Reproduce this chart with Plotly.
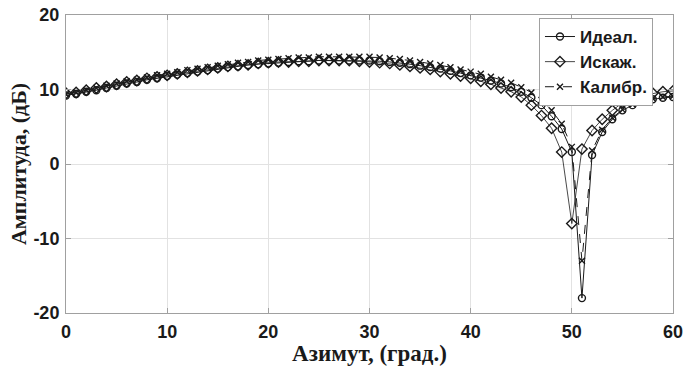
import plotly.graph_objects as go

azimuth = list(range(0, 61))

ideal = [9.2, 9.4, 9.7, 9.9, 10.2, 10.5, 10.8, 11.0, 11.3, 11.5,
         11.8, 12.0, 12.2, 12.4, 12.6, 12.8, 13.0, 13.1, 13.3, 13.4,
         13.5, 13.6, 13.7, 13.8, 13.8, 13.9, 13.9, 13.9, 13.9, 13.9,
         13.9, 13.8, 13.7, 13.6, 13.4, 13.2, 13.0, 12.8, 12.5, 12.2,
         11.9, 11.6, 11.2, 10.8, 10.3, 9.7, 8.9, 7.9, 6.4, 4.7,
         1.6, -18.0, 1.2, 4.3, 6.0, 7.2, 7.9, 8.4, 8.7, 8.9, 9.0]

distorted = [9.5, 9.6, 9.9, 10.2, 10.4, 10.7, 11.0, 11.2, 11.5, 11.7,
             11.9, 12.1, 12.3, 12.5, 12.7, 12.9, 13.1, 13.2, 13.3, 13.5,
             13.6, 13.7, 13.7, 13.8, 13.8, 13.9, 13.9, 13.9, 13.9, 13.8,
             13.7, 13.6, 13.5, 13.3, 13.1, 12.9, 12.7, 12.4, 12.1, 11.8,
             11.5, 11.1, 10.7, 10.2, 9.7, 9.0, 7.9, 6.5, 4.8, 1.6,
             -8.0, 2.0, 4.5, 6.0, 7.2, 8.2, 8.8, 9.2, 9.5, 9.7, 9.8]

calibrated = [9.4, 9.6, 9.9, 10.2, 10.5, 10.8, 11.1, 11.3, 11.6, 11.9,
              12.1, 12.3, 12.6, 12.8, 13.0, 13.2, 13.4, 13.6, 13.7, 13.9,
              14.0, 14.1, 14.2, 14.3, 14.3, 14.4, 14.4, 14.4, 14.4, 14.4,
              14.4, 14.3, 14.2, 14.1, 13.9, 13.7, 13.5, 13.3, 13.0, 12.7,
              12.4, 12.1, 11.7, 11.3, 10.9, 10.3, 9.6, 8.6, 7.2, 5.4,
              2.3, -13.0, 1.8, 4.6, 6.2, 7.3, 8.0, 8.5, 8.8, 9.0, 9.1]

series_names = ["Идеал.", "Искаж.", "Калибр."]
x_tickvals = [0, 10, 20, 30, 40, 50, 60]
x_ticktext = ["0", "10", "20", "30", "40", "50", "60"]
y_tickvals = [20, 10, 0, -10, -20]
y_ticktext = ["20", "10", "0", "-10", "-20"]

ink = "#1a1a1a"

fig = go.Figure()
fig.add_trace(go.Scatter(
    x=azimuth, y=ideal, name=series_names[0], mode="lines+markers",
    line=dict(color=ink, width=1),
    marker=dict(symbol="circle-open", size=7, color=ink, line=dict(width=1.4)),
))
fig.add_trace(go.Scatter(
    x=azimuth, y=distorted, name=series_names[1], mode="lines+markers",
    line=dict(color=ink, width=0.8),
    marker=dict(symbol="diamond-open", size=8, color=ink, line=dict(width=1.4)),
))
fig.add_trace(go.Scatter(
    x=azimuth, y=calibrated, name=series_names[2], mode="lines+markers",
    line=dict(color=ink, width=1, dash="dash"),
    marker=dict(symbol="x-thin-open", size=6, color=ink, line=dict(width=1.4, color=ink)),
))

axis_common = dict(
    showgrid=True, gridcolor="#e2e2e2", gridwidth=1,
    showline=True, linecolor="#a0a0a0", linewidth=1, mirror="ticks",
    ticks="inside", ticklen=5, tickcolor="#a0a0a0",
    zeroline=False, automargin=False,
    tickfont=dict(family="Liberation Sans, Arial, sans-serif", size=18, color=ink, weight="bold"),
)

fig.update_xaxes(
    range=[0, 60], tickvals=x_tickvals, ticktext=x_ticktext,
    ticklabelstandoff=2,
    title=dict(text="<b>Азимут, (град.)</b>", standoff=0,
               font=dict(family="Liberation Serif, Times New Roman, serif", size=23, color=ink)),
    **axis_common,
)
fig.update_yaxes(
    range=[-20, 20], tickvals=y_tickvals, ticktext=y_ticktext,
    ticklabelstandoff=2,
    title=dict(text="<b>Амплитуда, (дБ)</b>", standoff=0,
               font=dict(family="Liberation Serif, Times New Roman, serif", size=22, color=ink)),
    **axis_common,
)

fig.update_layout(
    width=685, height=366,
    margin=dict(l=66, r=12, t=15, b=53),
    paper_bgcolor="white", plot_bgcolor="white",
    showlegend=True,
    legend=dict(
        x=0.967, y=0.99, xanchor="right", yanchor="top",
        bgcolor="white", bordercolor="#a0a0a0", borderwidth=1,
        font=dict(family="Liberation Sans, Arial, sans-serif", size=17, color=ink, weight="bold"),
        itemwidth=30, tracegroupgap=0,
    ),
)

fig.write_html("out.html", config={"displayModeBar": False},
               post_script="document.body.style.margin='0px';")
